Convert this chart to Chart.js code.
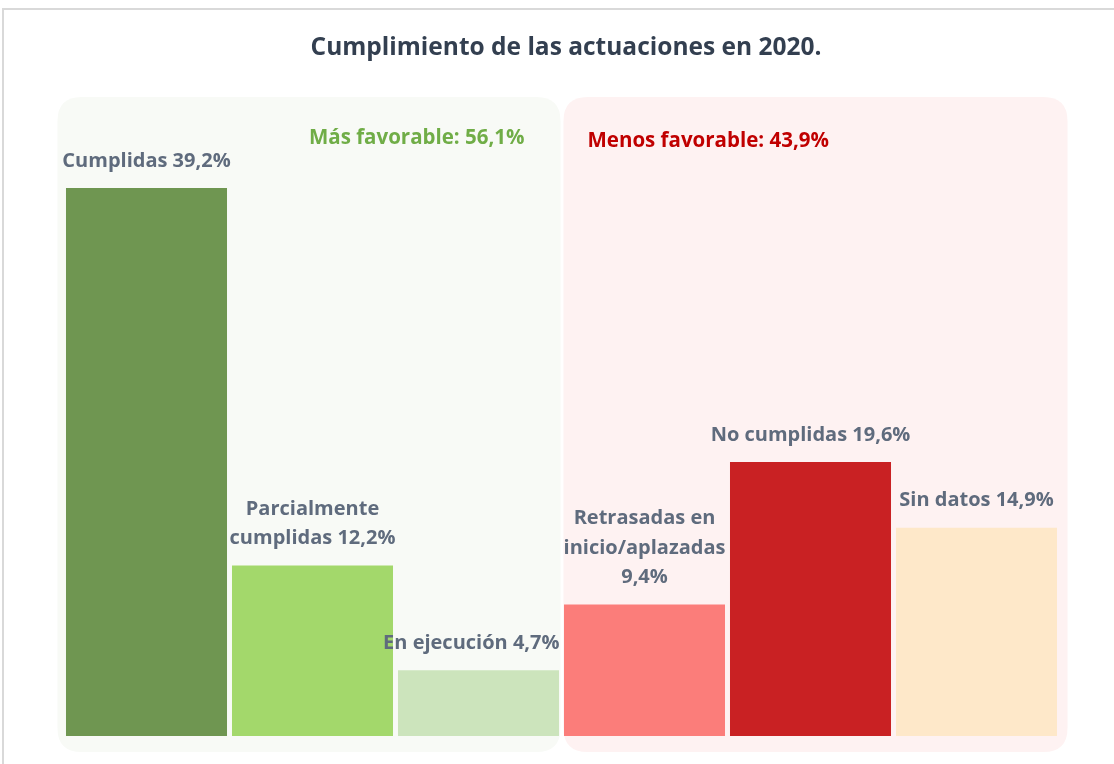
<!DOCTYPE html>
<html>
<head>
<meta charset="utf-8">
<script src="https://cdn.jsdelivr.net/npm/chart.js@4.4.0/dist/chart.umd.min.js"></script>
<style>
  html, body { margin: 0; padding: 0; background: #ffffff; }
  #wrap { position: relative; width: 1114px; height: 764px; }
</style>
</head>
<body>
<div id="wrap"><canvas id="c"></canvas></div>
<script>
// ---- data ----
const categories = ["Cumplidas", "Parcialmente cumplidas", "En ejecución", "Retrasadas en inicio/aplazadas", "No cumplidas", "Sin datos"];
const labelLines = [
  ["Cumplidas 39,2%"],
  ["Parcialmente", "cumplidas 12,2%"],
  ["En ejecución 4,7%"],
  ["Retrasadas en", "inicio/aplazadas", "9,4%"],
  ["No cumplidas 19,6%"],
  ["Sin datos 14,9%"]
];
const values = [39.2, 12.2, 4.7, 9.4, 19.6, 14.9];
const groups = ["Más favorable", "Menos favorable"];
const groupMembers = [[0, 1, 2], [3, 4, 5]];
const titleText = "Cumplimiento de las actuaciones en 2020.";

// ---- styles ----
const barColors = ["#6f9651", "#a3d86b", "#cce4bc", "#fb7d7a", "#c92123", "#fee8c9"];
const panelColors = ["#f8faf6", "#fef2f2"];
const groupColors = ["#70ad47", "#c00000"];
const FONT = "'Open Sans', Lato, sans-serif";

function fmt(v) { return v.toFixed(1).replace(".", ",") + "%"; }

function roundRect(ctx, x, y, w, h, r) {
  ctx.beginPath();
  ctx.moveTo(x + r, y);
  ctx.lineTo(x + w - r, y);
  ctx.quadraticCurveTo(x + w, y, x + w, y + r);
  ctx.lineTo(x + w, y + h - r);
  ctx.quadraticCurveTo(x + w, y + h, x + w - r, y + h);
  ctx.lineTo(x + r, y + h);
  ctx.quadraticCurveTo(x, y + h, x, y + h - r);
  ctx.lineTo(x, y + r);
  ctx.quadraticCurveTo(x, y, x + r, y);
  ctx.closePath();
}

const decor = {
  id: "decor",
  beforeDatasetsDraw(chart) {
    const ctx = chart.ctx;
    const ca = chart.chartArea;
    const xs = chart.scales.x;
    ctx.save();
    // outer frame
    ctx.strokeStyle = "#d9d9d9";
    ctx.lineWidth = 2;
    ctx.beginPath();
    ctx.moveTo(3, 764);
    ctx.lineTo(3, 9);
    ctx.lineTo(1114, 9);
    ctx.stroke();
    // panels
    const boundary = (xs.getPixelForValue(2) + xs.getPixelForValue(3)) / 2;
    const top = 97, bottom = ca.bottom + 16;
    ctx.fillStyle = panelColors[0];
    roundRect(ctx, ca.left - 6, top, boundary - 1 - (ca.left - 6), bottom - top, 24);
    ctx.fill();
    ctx.fillStyle = panelColors[1];
    roundRect(ctx, boundary + 2, top, ca.right + 8 - (boundary + 2), bottom - top, 24);
    ctx.fill();
    // title
    ctx.fillStyle = "#333f50";
    ctx.font = "bold 24.5px " + FONT;
    ctx.textAlign = "center";
    ctx.textBaseline = "middle";
    ctx.fillText(titleText, 566, 48);
    // group headings
    const sums = groupMembers.map(m => m.reduce((s, i) => s + values[i], 0));
    ctx.font = "bold 20.5px " + FONT;
    ctx.fillStyle = groupColors[0];
    ctx.textAlign = "right";
    ctx.fillText(groups[0] + ": " + fmt(sums[0]), boundary - 37, 138);
    ctx.fillStyle = groupColors[1];
    ctx.textAlign = "left";
    ctx.fillText(groups[1] + ": " + fmt(sums[1]), boundary + 26, 141);
    ctx.restore();
  },
  afterDatasetsDraw(chart) {
    const ctx = chart.ctx;
    const meta = chart.getDatasetMeta(0);
    const xs = chart.scales.x;
    const boundary = (xs.getPixelForValue(2) + xs.getPixelForValue(3)) / 2;
    ctx.save();
    ctx.font = "bold 20px " + FONT;
    ctx.fillStyle = "#5f6b7d";
    ctx.textAlign = "center";
    ctx.textBaseline = "middle";
    const lh = 29.5;
    meta.data.forEach((bar, i) => {
      const lines = labelLines[i];
      let cx = bar.x;
      // keep label inside its own panel
      const w = Math.max(...lines.map(l => ctx.measureText(l).width));
      if (i < 3 && cx + w / 2 > boundary - 2) cx = boundary - 2 - w / 2;
      const lastY = bar.y - 27;
      lines.forEach((l, j) => {
        ctx.fillText(l, cx, lastY - (lines.length - 1 - j) * lh);
      });
    });
    ctx.restore();
  }
};

new Chart(document.getElementById("c"), {
  type: "bar",
  data: {
    labels: categories,
    datasets: [{
      data: values,
      backgroundColor: barColors,
      borderWidth: 0,
      barPercentage: 0.97,
      categoryPercentage: 1.0
    }]
  },
  options: {
    responsive: true,
    maintainAspectRatio: false,
    animation: false,
    layout: { padding: { left: 63.5, right: 54.5, top: 188, bottom: 28 } },
    plugins: { legend: { display: false }, title: { display: false }, tooltip: { enabled: false } },
    scales: {
      x: { display: false, grid: { display: false } },
      y: { display: false, min: 0, max: 39.2, grid: { display: false } }
    }
  },
  plugins: [decor]
});
</script>
</body>
</html>
